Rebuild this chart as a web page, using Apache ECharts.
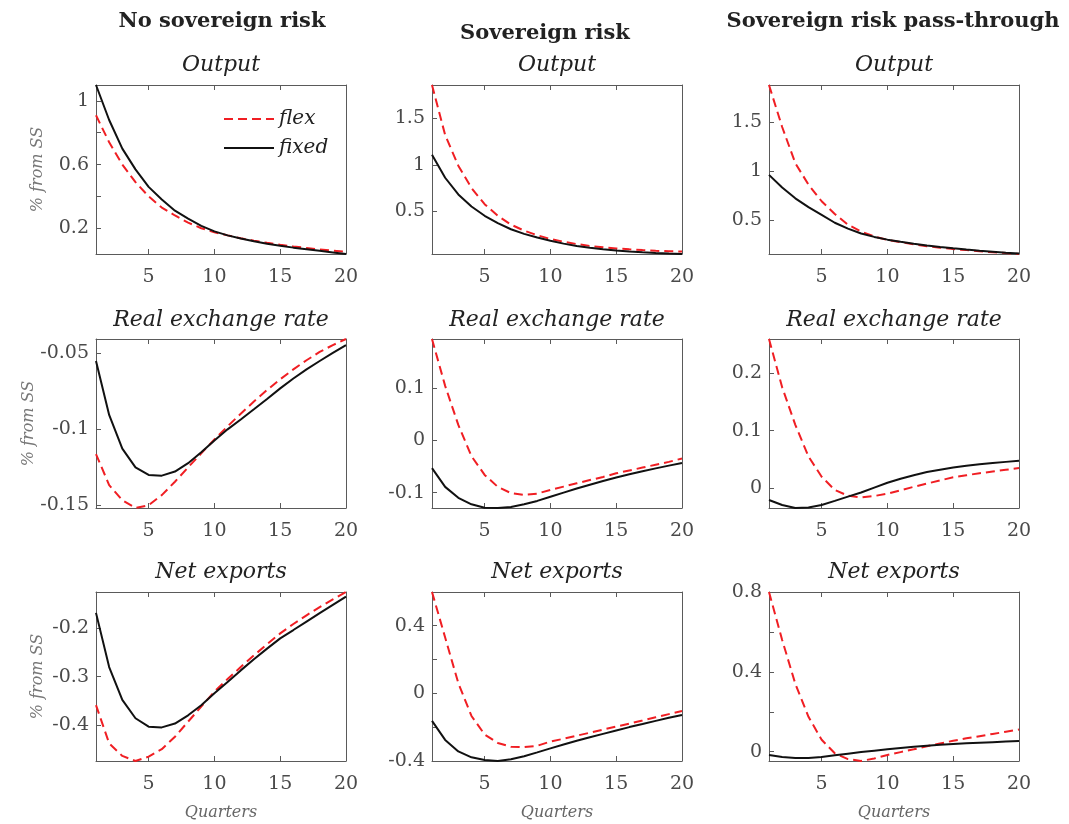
<!DOCTYPE html>
<html>
<head>
<meta charset="utf-8">
<script src="https://cdn.jsdelivr.net/npm/echarts@6/dist/echarts.min.js"></script>
<style>
  html, body { margin: 0; padding: 0; background: #fff; }
  #main { width: 1069px; height: 824px; }
</style>
</head>
<body>
<div id="main"></div>
<script>
// quarters after the shock
var quarters = [1, 2, 3, 4, 5, 6, 7, 8, 9, 10, 11, 12, 13, 14, 15, 16, 17, 18, 19, 20];

var colTitles = ['No sovereign risk', 'Sovereign risk', 'Sovereign risk pass-through'];
var rowTitles = ['Output', 'Real exchange rate', 'Net exports'];

// --- Output ---
var outFlexNoSov  = [0.91, 0.74, 0.60, 0.49, 0.40, 0.33, 0.28, 0.235, 0.20, 0.175, 0.155, 0.137, 0.122, 0.108, 0.096, 0.085, 0.076, 0.067, 0.059, 0.052];
var outFixedNoSov = [1.10, 0.88, 0.70, 0.57, 0.46, 0.38, 0.31, 0.26, 0.215, 0.18, 0.155, 0.135, 0.118, 0.103, 0.09, 0.078, 0.068, 0.058, 0.048, 0.038];
var outFlexSov    = [1.86, 1.32, 0.99, 0.75, 0.575, 0.45, 0.355, 0.29, 0.24, 0.20, 0.17, 0.145, 0.125, 0.11, 0.098, 0.088, 0.08, 0.073, 0.068, 0.064];
var outFixedSov   = [1.107, 0.86, 0.68, 0.55, 0.45, 0.37, 0.305, 0.255, 0.215, 0.18, 0.15, 0.125, 0.105, 0.09, 0.076, 0.065, 0.056, 0.049, 0.043, 0.038];
var outFlexPass   = [1.88, 1.45, 1.08, 0.86, 0.69, 0.56, 0.45, 0.38, 0.33, 0.295, 0.27, 0.25, 0.23, 0.215, 0.20, 0.19, 0.178, 0.168, 0.159, 0.15];
var outFixedPass  = [0.96, 0.83, 0.72, 0.63, 0.55, 0.47, 0.41, 0.36, 0.325, 0.297, 0.275, 0.255, 0.237, 0.222, 0.208, 0.195, 0.184, 0.174, 0.164, 0.155];

// --- Real exchange rate ---
var rerFlexNoSov  = [-0.1163, -0.1367, -0.1467, -0.1518, -0.150, -0.1433, -0.1345, -0.125, -0.1158, -0.1067, -0.098, -0.0897, -0.0817, -0.0741, -0.067, -0.0605, -0.0545, -0.049, -0.0445, -0.0405];
var rerFixedNoSov = [-0.055, -0.0905, -0.1127, -0.125, -0.130, -0.1305, -0.1278, -0.1223, -0.1151, -0.1073, -0.100, -0.0935, -0.0868, -0.080, -0.073, -0.0665, -0.0605, -0.055, -0.0497, -0.0445];
var rerFlexSov    = [0.195, 0.105, 0.03, -0.03, -0.066, -0.089, -0.101, -0.1045, -0.102, -0.0948, -0.0885, -0.0822, -0.076, -0.07, -0.063, -0.0575, -0.052, -0.0465, -0.041, -0.0345];
var rerFixedSov   = [-0.053, -0.089, -0.110, -0.1225, -0.129, -0.1296, -0.1275, -0.1225, -0.116, -0.108, -0.100, -0.0922, -0.0848, -0.0777, -0.071, -0.0648, -0.059, -0.0535, -0.0482, -0.0432];
var rerFlexPass   = [0.2588, 0.175, 0.11, 0.055, 0.02, -0.003, -0.013, -0.016, -0.0135, -0.0095, -0.0035, 0.0025, 0.008, 0.0135, 0.019, 0.0225, 0.026, 0.029, 0.032, 0.035];
var rerFixedPass  = [-0.0205, -0.029, -0.0343, -0.0335, -0.029, -0.022, -0.0145, -0.0075, 0.001, 0.0095, 0.0165, 0.0225, 0.028, 0.032, 0.036, 0.039, 0.0415, 0.0437, 0.0457, 0.0477];

// --- Net exports ---
var nxFlexNoSov   = [-0.359, -0.438, -0.464, -0.4745, -0.4655, -0.45, -0.4243, -0.393, -0.362, -0.331, -0.305, -0.28, -0.256, -0.233, -0.2104, -0.191, -0.173, -0.156, -0.14, -0.1248];
var nxFixedNoSov  = [-0.168, -0.28, -0.348, -0.386, -0.4035, -0.405, -0.397, -0.38, -0.359, -0.3345, -0.311, -0.287, -0.264, -0.242, -0.2207, -0.2035, -0.186, -0.1685, -0.1515, -0.1345];
var nxFlexSov     = [0.60, 0.33, 0.06, -0.135, -0.245, -0.295, -0.317, -0.32, -0.312, -0.287, -0.27, -0.252, -0.234, -0.216, -0.198, -0.18, -0.162, -0.143, -0.124, -0.105];
var nxFixedSov    = [-0.164, -0.277, -0.345, -0.38, -0.396, -0.402, -0.392, -0.374, -0.351, -0.327, -0.304, -0.282, -0.261, -0.241, -0.221, -0.201, -0.183, -0.164, -0.146, -0.129];
var nxFlexPass    = [0.80, 0.56, 0.34, 0.175, 0.06, -0.008, -0.037, -0.0465, -0.034, -0.0165, -0.002, 0.012, 0.027, 0.041, 0.055, 0.067, 0.078, 0.089, 0.10, 0.111];
var nxFixedPass   = [-0.0165, -0.027, -0.032, -0.031, -0.026, -0.018, -0.01, -0.002, 0.005, 0.012, 0.0185, 0.0245, 0.03, 0.0345, 0.0385, 0.042, 0.045, 0.048, 0.051, 0.0535];

// tick marks and labelled ticks per panel (row-major)
var xTicks = [5, 10, 15, 20];
var yTicks = [
    [0.2, 0.4, 0.6, 0.8, 1], [0.5, 1, 1.5], [0.5, 1, 1.5],
    [-0.15, -0.1, -0.05], [-0.1, 0, 0.1], [0, 0.1, 0.2],
    [-0.4, -0.3, -0.2], [-0.2, 0, 0.2, 0.4], [0, 0.2, 0.4, 0.6, 0.8]
];
var yLabels = [
    [0.2, 0.6, 1], [0.5, 1, 1.5], [0.5, 1, 1.5],
    [-0.15, -0.1, -0.05], [-0.1, 0, 0.1], [0, 0.1, 0.2],
    [-0.4, -0.3, -0.2], [-0.4, 0, 0.4], [0, 0.4, 0.8]
];

var flexSeries  = [outFlexNoSov, outFlexSov, outFlexPass, rerFlexNoSov, rerFlexSov, rerFlexPass, nxFlexNoSov, nxFlexSov, nxFlexPass];
var fixedSeries = [outFixedNoSov, outFixedSov, outFixedPass, rerFixedNoSov, rerFixedSov, rerFixedPass, nxFixedNoSov, nxFixedSov, nxFixedPass];

var chart = echarts.init(document.getElementById('main'), null, {renderer: 'canvas'});

var serif = 'DejaVu Serif';
var frameColor = '#5a5a5a';
var labelColor = '#4a4a4a';
var gridLeft = [96, 432, 769];
var gridTop = [85, 339, 592];
var rowTitleTop = [54, 309, 561];
var colTitleTop = [11, 23, 11];
var colCenter = [222, 545, 893];

var pairs = function (ys) {
    var res = [];
    for (var i = 0; i < quarters.length; i++) {
        res.push([quarters[i], ys[i]]);
    }
    return res;
};
var fmt = function (v) {
    return String(+v.toFixed(4));
};

var grids = [], xAxes = [], yAxes = [], series = [], titles = [];

for (var c = 0; c < 3; c++) {
    titles.push({
        text: colTitles[c], left: colCenter[c], top: colTitleTop[c], textAlign: 'center', padding: 0,
        textStyle: {fontFamily: serif, fontWeight: 'bold', fontSize: 21, color: '#222'}
    });
}

for (var p = 0; p < 9; p++) {
    var r = Math.floor(p / 3), c = p % 3;
    grids.push({left: gridLeft[c], top: gridTop[r], width: 250, height: 169});
    titles.push({
        text: rowTitles[r], left: gridLeft[c] + 125, top: rowTitleTop[r], textAlign: 'center', padding: 0,
        textStyle: {fontFamily: serif, fontStyle: 'italic', fontWeight: 'normal', fontSize: 22, color: '#222'}
    });
    var lastRow = r === 2;
    ['bottom', 'top'].forEach(function (pos) {
        xAxes.push({
            type: 'value', gridIndex: p, position: pos, min: 1, max: 20,
            name: (pos === 'bottom' && lastRow) ? 'Quarters' : '',
            nameLocation: 'middle', nameGap: 44,
            nameTextStyle: {fontFamily: serif, fontStyle: 'italic', fontSize: 16, color: '#666'},
            axisLine: {show: true, onZero: false, lineStyle: {color: frameColor, width: 1}},
            axisTick: {show: true, inside: true, length: 5, customValues: xTicks, lineStyle: {color: frameColor}},
            axisLabel: {show: pos === 'bottom', customValues: xTicks, margin: 14, fontFamily: serif, fontSize: 19, color: labelColor},
            splitLine: {show: false}
        });
    });
    ['left', 'right'].forEach(function (pos) {
        yAxes.push({
            type: 'value', gridIndex: p, position: pos, min: 'dataMin', max: 'dataMax',
            name: (pos === 'left' && c === 0) ? '% from SS' : '',
            nameLocation: 'middle', nameGap: 50, nameRotate: 90,
            nameTextStyle: {fontFamily: serif, fontStyle: 'italic', fontSize: 16, color: '#777'},
            axisLine: {show: true, onZero: false, lineStyle: {color: frameColor, width: 1}},
            axisTick: {show: true, inside: true, length: 5, customValues: yTicks[p], lineStyle: {color: frameColor}},
            axisLabel: {show: pos === 'left', customValues: yLabels[p], formatter: fmt, margin: 7, fontFamily: serif, fontSize: 19, color: labelColor},
            splitLine: {show: false}
        });
    });
    series.push({
        name: 'flex', type: 'line', xAxisIndex: 2 * p, yAxisIndex: 2 * p,
        data: pairs(flexSeries[p]), symbol: 'none', clip: false,
        lineStyle: {color: '#f01e23', width: 2, type: [9, 5]}, itemStyle: {color: '#f01e23'}
    });
    series.push({
        name: 'fixed', type: 'line', xAxisIndex: 2 * p, yAxisIndex: 2 * p,
        data: pairs(fixedSeries[p]), symbol: 'none', clip: false,
        lineStyle: {color: '#111', width: 2}, itemStyle: {color: '#111'}
    });
}

chart.setOption({
    animation: false,
    backgroundColor: '#fff',
    title: titles,
    legend: {
        data: ['flex', 'fixed'],
        orient: 'vertical',
        left: 218, top: 104,
        itemWidth: 50, itemHeight: 14, itemGap: 9,
        itemStyle: {opacity: 0, borderWidth: 0},
        textStyle: {fontFamily: serif, fontStyle: 'italic', fontSize: 20, color: '#222'}
    },
    grid: grids,
    xAxis: xAxes,
    yAxis: yAxes,
    series: series
});
</script>
</body>
</html>
